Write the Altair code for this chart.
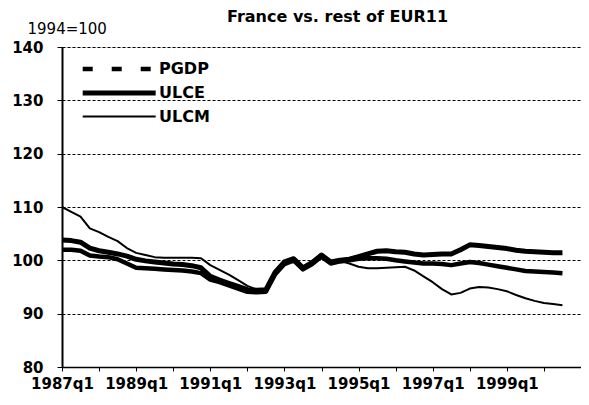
import altair as alt
import pandas as pd

# Quarter labels 1987q1 .. 2000q3
quarters = [f"{y}q{q}" for y in range(1987, 2001) for q in range(1, 5)][:55]

series_names = ["PGDP", "ULCE", "ULCM"]

pgdp = [102.0, 102.0, 101.8, 100.9, 100.7, 100.6, 100.2, 99.4, 98.6, 98.5, 98.4, 98.3, 98.2, 98.1, 97.9, 97.6,
        96.4, 95.9, 95.3, 94.7, 94.1, 94.0, 94.1,
        97.4, 99.3, 100.0, 98.3, 99.3, 100.7, 99.4, 99.8,
        100.0, 100.3, 100.4, 100.4, 100.3, 100.0, 99.8, 99.6, 99.4, 99.4, 99.3, 99.1, 99.4, 99.7, 99.5, 99.2,
        98.9, 98.6, 98.3, 98.0, 97.9, 97.8, 97.7, 97.6]

ulce = [103.8, 103.7, 103.4, 102.3, 101.8, 101.5, 101.2, 100.8, 100.2, 99.9, 99.7, 99.5, 99.3, 99.2, 99.0, 98.6,
        97.0, 96.3, 95.7, 95.1, 94.5, 94.4, 94.5,
        97.8, 99.7, 100.3, 98.6, 99.6, 101.0, 99.7, 100.0,
        100.2, 100.7, 101.2, 101.7, 101.8, 101.6, 101.5, 101.2, 101.0, 101.1, 101.2, 101.2, 102.0, 102.9, 102.8, 102.6,
        102.4, 102.2, 101.9, 101.7, 101.6, 101.5, 101.4, 101.4]

ulcm = [110.0, 109.1, 108.2, 106.0, 105.3, 104.4, 103.6, 102.3, 101.4, 101.0, 100.6, 100.5, 100.5, 100.5, 100.5, 100.4,
        99.1, 98.2, 97.3, 96.3, 95.2, 94.5, 94.4,
        97.6, 99.5, 100.1, 98.5, 99.5, 100.8, 99.5, 99.9,
        99.4, 98.8, 98.5, 98.5, 98.6, 98.7, 98.8, 98.1, 97.0, 95.9, 94.6, 93.6, 93.9, 94.7, 95.0, 94.9,
        94.6, 94.2, 93.5, 92.9, 92.4, 92.0, 91.8, 91.6]

y_ticks = [80, 90, 100, 110, 120, 130, 140]
x_years = list(range(1987, 2002))
widths = [4.5, 5, 2]
dashes = [[10, 19], [1, 0], [1, 0]]

rows = []
for name, vals in zip(series_names, [pgdp, ulce, ulcm]):
    for q, v in zip(quarters, vals):
        yr, qq = q.split("q")
        rows.append({"quarter": q, "t": int(yr) + (int(qq) - 1) / 4, "value": v, "series": name})
df = pd.DataFrame(rows)

FONT = "DejaVu Sans"

x_enc = alt.X("t:Q",
              scale=alt.Scale(domain=[1987, 2001], nice=False, zero=False),
              axis=alt.Axis(values=x_years, title=None, grid=False,
                            labelExpr="((datum.value - 1987) % 2 == 0 && datum.value < 2001) ? datum.value + 'q1' : ''",
                            tickSize=4, tickColor="black", tickWidth=1,
                            domainColor="black", domainWidth=1.5,
                            labelFont=FONT, labelFontSize=15, labelFontWeight="bold", labelColor="black",
                            labelPadding=5, labelOverlap=False, labelFlush=False, labelBound=False))
y_enc = alt.Y("value:Q",
              scale=alt.Scale(domain=[80, 140], nice=False, zero=False),
              axis=alt.Axis(values=y_ticks, title="1994=100", titleAngle=0, titleAlign="left",
                            titleBaseline="alphabetic", titleX=-35, titleY=-14,
                            titleFont=FONT, titleFontSize=15, titleFontWeight="normal", titleColor="black",
                            grid=True, gridColor="black", gridDash=[3, 2], gridWidth=1,
                            tickSize=5, tickColor="black", tickWidth=1,
                            domainColor="black", domainWidth=2,
                            labelFont=FONT, labelFontSize=15, labelFontWeight="bold", labelColor="black",
                            labelPadding=14))

base = alt.Chart(df)

line_layers = []
for name, w in zip(series_names, widths):
    line_layers.append(
        base.transform_filter(alt.datum.series == name)
        .mark_line(color="black", strokeWidth=w, strokeCap="butt", strokeJoin="round")
        .encode(x=x_enc, y=y_enc, order="t:Q")
    )

legend_kw = dict(title=None, orient="none", legendX=18, legendY=12,
                 symbolType="M-1,0H9", symbolSize=213, symbolStrokeColor="black",
                 symbolOpacity=1, symbolFillColor="transparent",
                 labelFont=FONT, labelFontSize=16, labelFontWeight="bold",
                 labelColor="black", labelOffset=59, rowPadding=5, padding=0)

legend_layer = base.mark_line(color="black", opacity=0, strokeCap="butt").encode(
    x=x_enc, y=y_enc,
    strokeWidth=alt.StrokeWidth("series:N",
                                scale=alt.Scale(type="ordinal", domain=series_names, range=widths),
                                legend=alt.Legend(**legend_kw)),
    strokeDash=alt.StrokeDash("series:N", scale=alt.Scale(domain=series_names, range=dashes),
                              legend=alt.Legend(**legend_kw)),
    order="t:Q",
)

chart = alt.layer(*line_layers, legend_layer).properties(
    width=519,
    height=320,
    title=alt.TitleParams("France vs. rest of EUR11", font=FONT, fontSize=16, fontWeight="bold",
                          color="black", anchor="middle", dx=16, dy=8, offset=4),
    autosize=alt.AutoSizeParams(type="none"),
    padding={"left": 54, "top": 39, "right": 0, "bottom": 30},
).configure_view(stroke="black", strokeWidth=1).configure(background="white")

chart.save("out.html", embed_options={"renderer": "svg", "actions": False})
